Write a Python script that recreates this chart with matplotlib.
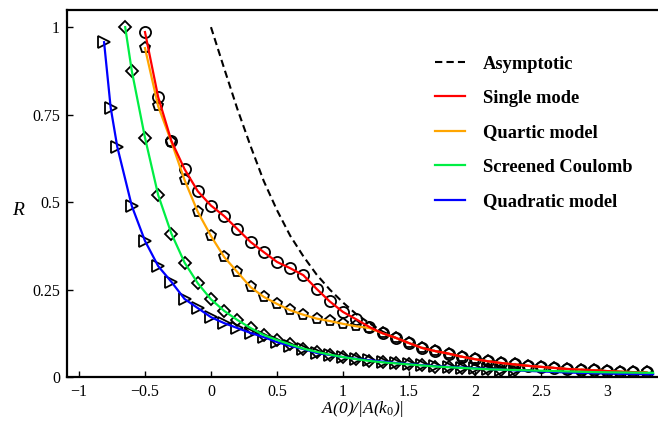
import numpy as np
import matplotlib
matplotlib.use("Agg")
import matplotlib.pyplot as plt

plt.rcParams['font.family'] = 'serif'
plt.rcParams['font.serif'] = ['Liberation Serif', 'DejaVu Serif']
plt.rcParams['mathtext.fontset'] = 'custom'
plt.rcParams['mathtext.rm'] = 'Liberation Serif'
plt.rcParams['mathtext.it'] = 'Liberation Serif:italic'

# asymptotic curve
x_asym = np.round(np.arange(0.0, 3.31, 0.1), 1)
r_asym = [1.0, 0.882, 0.766, 0.66, 0.56, 0.477, 0.404, 0.345, 0.293, 0.25,
          0.213, 0.18, 0.154, 0.13, 0.112, 0.097, 0.084, 0.074, 0.066, 0.058,
          0.051, 0.045, 0.04, 0.036, 0.032, 0.029, 0.026, 0.023, 0.021, 0.019,
          0.017, 0.015, 0.014, 0.013]

# single mode (circles)
x_single = np.round(np.arange(-0.5, 3.31, 0.1), 1)
r_single = [0.986, 0.80, 0.675, 0.594, 0.531,
            0.49, 0.46, 0.423, 0.386, 0.357, 0.329, 0.311, 0.291, 0.252, 0.216,
            0.186, 0.165, 0.143, 0.125, 0.112, 0.097, 0.083, 0.074, 0.067, 0.058,
            0.051, 0.045, 0.040, 0.036, 0.032, 0.029, 0.026, 0.023, 0.021, 0.019,
            0.017, 0.015, 0.014, 0.013]

# quartic model (pentagons)
x_quartic = np.round(np.arange(-0.5, 3.31, 0.1), 1)
r_quartic = [0.94, 0.774, 0.672, 0.563, 0.472,
             0.403, 0.343, 0.30, 0.257, 0.229, 0.209, 0.191, 0.178, 0.167, 0.16,
             0.152, 0.145, 0.14, 0.125, 0.112, 0.097, 0.083, 0.074, 0.067, 0.058,
             0.051, 0.045, 0.040, 0.036, 0.032, 0.029, 0.026, 0.023, 0.021, 0.019,
             0.017, 0.015, 0.014, 0.013]

# screened Coulomb (diamonds)
x_coul = [-0.65, -0.6, -0.5, -0.4, -0.3, -0.2, -0.1, 0.0, 0.1, 0.2, 0.3, 0.4,
          0.5, 0.6, 0.7, 0.8, 0.9, 1.0, 1.1, 1.2, 1.3, 1.4, 1.5, 1.6, 1.7, 1.8,
          1.9, 2.0, 2.1, 2.2, 2.3]
r_coul = [1.0, 0.875, 0.684, 0.52, 0.41, 0.327, 0.268, 0.222, 0.189, 0.163,
          0.14, 0.12, 0.106, 0.093, 0.081, 0.072, 0.064, 0.057, 0.051, 0.046,
          0.042, 0.039, 0.036, 0.033, 0.030, 0.028, 0.026, 0.024, 0.022, 0.021,
          0.020]

# quadratic model (triangles)
x_quad = [-0.81, -0.76, -0.71, -0.6, -0.5, -0.4, -0.3, -0.2, -0.1, 0.0, 0.1,
          0.2, 0.3, 0.4, 0.5, 0.6, 0.7, 0.8, 0.9, 1.0, 1.1, 1.2, 1.3, 1.4, 1.5,
          1.6, 1.7, 1.8, 1.9, 2.0, 2.1, 2.2, 2.3]
r_quad = [0.957, 0.77, 0.658, 0.489, 0.389, 0.317, 0.272, 0.223, 0.197, 0.171,
          0.154, 0.14, 0.126, 0.114, 0.1, 0.089, 0.08, 0.069, 0.063, 0.057,
          0.052, 0.048, 0.044, 0.04, 0.037, 0.034, 0.031, 0.029, 0.027, 0.025,
          0.023, 0.021, 0.019]

# curve tails past the last markers
x_tail = [2.5, 2.7, 2.9, 3.1, 3.35]
r_coul_tail = [0.018, 0.016, 0.014, 0.013, 0.012]
r_quad_tail = [0.016, 0.013, 0.011, 0.009, 0.008]

fig = plt.figure(figsize=(6.58, 4.22), dpi=100)
ax = fig.add_axes([0.1018, 0.1066, 0.898, 0.8697])

mk = dict(mfc='none', mec='black', mew=1.3, ls='none', zorder=2)
ax.plot(x_single, r_single, marker='o', ms=8, **mk)
ax.plot(x_quartic, r_quartic, marker='p', ms=8, **mk)
ax.plot(x_coul, r_coul, marker='D', ms=6, **mk)
ax.plot(x_quad, r_quad, marker='>', ms=8, **mk)

ax.plot(x_asym, r_asym, color='black', lw=1.5, ls=(0, (3.5, 2)), label='Asymptotic', zorder=3)
ax.plot(x_quartic, r_quartic, color='#ffa500', lw=1.6, label='Quartic model', zorder=3)
ax.plot(x_single, r_single, color='#ff0000', lw=1.6, label='Single mode', zorder=4)
ax.plot(list(x_quad) + x_tail, r_quad + r_quad_tail, color='#0000ff', lw=1.6,
        label='Quadratic model', zorder=3)
ax.plot(list(x_coul) + x_tail, r_coul + r_coul_tail, color='#00ee44', lw=1.6,
        label='Screened Coulomb', zorder=4)

ax.set_xlim(-1.091, 3.386)
ax.set_ylim(0, 1.049)
ax.set_xticks([-1, -0.5, 0, 0.5, 1, 1.5, 2, 2.5, 3])
ax.set_xticklabels(['\u22121', '\u22120.5', '0', '0.5', '1', '1.5', '2', '2.5', '3'])
ax.set_yticks([0, 0.25, 0.5, 0.75, 1])
ax.set_yticklabels(['0', '0.25', '0.5', '0.75', '1'])
ax.tick_params(direction='in', length=4, width=1, labelsize=11.5, pad=5)

for s in ['left', 'bottom', 'top']:
    ax.spines[s].set_linewidth(1.6)
ax.spines['right'].set_visible(False)

ax.set_xlabel(r'A(0)/|A(k$_{\mathit{0}}$)|', fontsize=12.5, style='italic', labelpad=-1)
ax.set_ylabel('R', fontsize=14, style='italic', rotation=0)
ax.yaxis.set_label_coords(-0.083, 0.43)

h, l = ax.get_legend_handles_labels()
order = ['Asymptotic', 'Single mode', 'Quartic model', 'Screened Coulomb', 'Quadratic model']
hs = [h[l.index(o)] for o in order]
ax.legend(hs, order, loc='upper left', bbox_to_anchor=(0.623, 0.876), frameon=False,
          prop={'weight': 'bold', 'size': 13.3}, handlelength=1.6, handletextpad=1.0,
          labelspacing=0.94, borderpad=0, borderaxespad=0)

fig.savefig('out.png', dpi=100)
